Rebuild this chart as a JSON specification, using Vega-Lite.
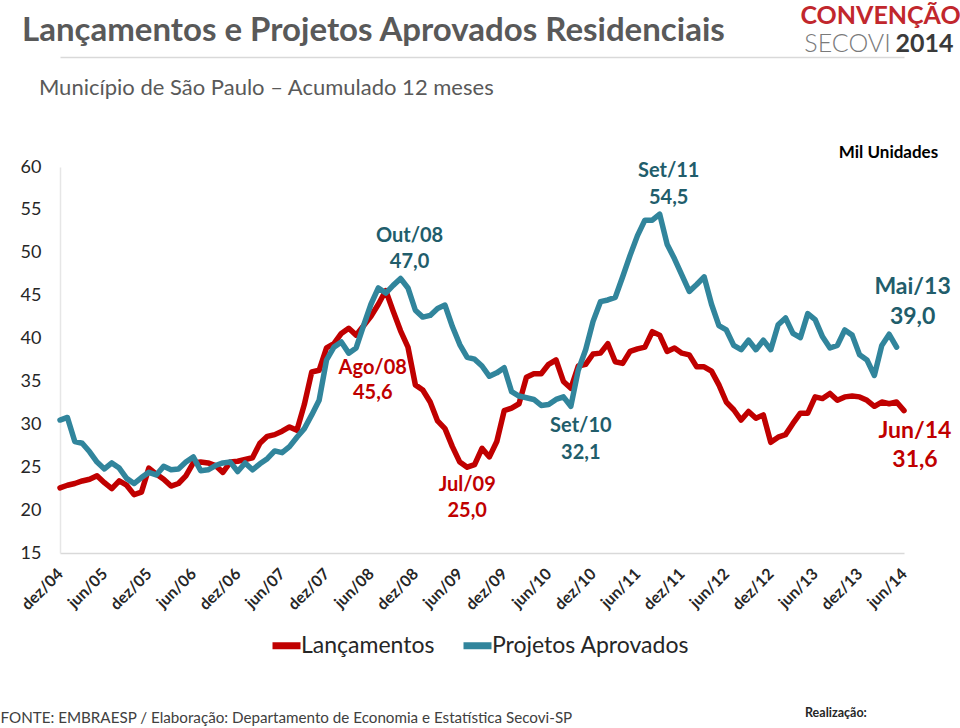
{
  "$schema": "https://vega.github.io/schema/vega-lite/v6.json",
  "autosize": "none",
  "width": 844,
  "height": 386,
  "padding": {"left": 60, "top": 167, "right": 56, "bottom": 175},
  "background": "white",
  "title": {
    "text": "Lançamentos e Projetos Aprovados Residenciais",
    "subtitle": "\u200b\u00a0\u00a0\u00a0Município de São Paulo – Acumulado 12 meses",
    "anchor": "start",
    "frame": "group",
    "dx": -38,
    "offset": -96,
    "font": "Lato",
    "fontSize": 33,
    "fontWeight": "bold",
    "color": "#595959",
    "subtitleFont": "Lato",
    "subtitleFontSize": 22,
    "subtitleColor": "#595959",
    "subtitlePadding": 30
  },
  "config": {
    "view": {"stroke": null},
    "font": "Lato",
    "text": {"font": "Lato"}
  },
  "resolve": {"axis": {"x": "independent", "y": "independent"}},
  "datasets": {
    "serie": [
      {"mes": "dez/04", "Lançamentos": 22.6, "Projetos Aprovados": 30.5},
      {"mes": "jan/05", "Lançamentos": 22.9, "Projetos Aprovados": 30.8},
      {"mes": "fev/05", "Lançamentos": 23.1, "Projetos Aprovados": 28.0},
      {"mes": "mar/05", "Lançamentos": 23.4, "Projetos Aprovados": 27.8},
      {"mes": "abr/05", "Lançamentos": 23.6, "Projetos Aprovados": 26.8},
      {"mes": "mai/05", "Lançamentos": 24.0, "Projetos Aprovados": 25.6},
      {"mes": "jun/05", "Lançamentos": 23.2, "Projetos Aprovados": 24.8},
      {"mes": "jul/05", "Lançamentos": 22.5, "Projetos Aprovados": 25.5},
      {"mes": "ago/05", "Lançamentos": 23.4, "Projetos Aprovados": 24.9},
      {"mes": "set/05", "Lançamentos": 22.9, "Projetos Aprovados": 23.7},
      {"mes": "out/05", "Lançamentos": 21.8, "Projetos Aprovados": 23.1},
      {"mes": "nov/05", "Lançamentos": 22.1, "Projetos Aprovados": 23.8},
      {"mes": "dez/05", "Lançamentos": 24.9, "Projetos Aprovados": 24.4},
      {"mes": "jan/06", "Lançamentos": 24.2, "Projetos Aprovados": 24.1},
      {"mes": "fev/06", "Lançamentos": 23.6, "Projetos Aprovados": 25.1},
      {"mes": "mar/06", "Lançamentos": 22.8, "Projetos Aprovados": 24.7},
      {"mes": "abr/06", "Lançamentos": 23.1, "Projetos Aprovados": 24.8},
      {"mes": "mai/06", "Lançamentos": 24.0, "Projetos Aprovados": 25.6},
      {"mes": "jun/06", "Lançamentos": 25.5, "Projetos Aprovados": 26.2},
      {"mes": "jul/06", "Lançamentos": 25.6, "Projetos Aprovados": 24.6},
      {"mes": "ago/06", "Lançamentos": 25.5, "Projetos Aprovados": 24.7},
      {"mes": "set/06", "Lançamentos": 25.2, "Projetos Aprovados": 25.2},
      {"mes": "out/06", "Lançamentos": 24.4, "Projetos Aprovados": 25.5},
      {"mes": "nov/06", "Lançamentos": 25.6, "Projetos Aprovados": 25.6},
      {"mes": "dez/06", "Lançamentos": 25.7, "Projetos Aprovados": 24.5},
      {"mes": "jan/07", "Lançamentos": 25.9, "Projetos Aprovados": 25.5},
      {"mes": "fev/07", "Lançamentos": 26.1, "Projetos Aprovados": 24.7},
      {"mes": "mar/07", "Lançamentos": 27.8, "Projetos Aprovados": 25.4},
      {"mes": "abr/07", "Lançamentos": 28.6, "Projetos Aprovados": 26.0},
      {"mes": "mai/07", "Lançamentos": 28.8, "Projetos Aprovados": 26.9},
      {"mes": "jun/07", "Lançamentos": 29.2, "Projetos Aprovados": 26.7},
      {"mes": "jul/07", "Lançamentos": 29.7, "Projetos Aprovados": 27.4},
      {"mes": "ago/07", "Lançamentos": 29.3, "Projetos Aprovados": 28.5},
      {"mes": "set/07", "Lançamentos": 32.3, "Projetos Aprovados": 29.5},
      {"mes": "out/07", "Lançamentos": 36.1, "Projetos Aprovados": 31.1},
      {"mes": "nov/07", "Lançamentos": 36.3, "Projetos Aprovados": 32.8},
      {"mes": "dez/07", "Lançamentos": 38.9, "Projetos Aprovados": 37.5},
      {"mes": "jan/08", "Lançamentos": 39.4, "Projetos Aprovados": 39.0},
      {"mes": "fev/08", "Lançamentos": 40.6, "Projetos Aprovados": 39.6},
      {"mes": "mar/08", "Lançamentos": 41.2, "Projetos Aprovados": 38.3},
      {"mes": "abr/08", "Lançamentos": 40.4, "Projetos Aprovados": 38.9},
      {"mes": "mai/08", "Lançamentos": 41.5, "Projetos Aprovados": 41.5},
      {"mes": "jun/08", "Lançamentos": 42.6, "Projetos Aprovados": 44.0},
      {"mes": "jul/08", "Lançamentos": 44.0, "Projetos Aprovados": 45.9},
      {"mes": "ago/08", "Lançamentos": 45.6, "Projetos Aprovados": 45.3},
      {"mes": "set/08", "Lançamentos": 43.2, "Projetos Aprovados": 46.2},
      {"mes": "out/08", "Lançamentos": 40.9, "Projetos Aprovados": 47.0},
      {"mes": "nov/08", "Lançamentos": 39.0, "Projetos Aprovados": 45.9},
      {"mes": "dez/08", "Lançamentos": 34.6, "Projetos Aprovados": 43.3},
      {"mes": "jan/09", "Lançamentos": 34.0, "Projetos Aprovados": 42.5},
      {"mes": "fev/09", "Lançamentos": 32.6, "Projetos Aprovados": 42.7},
      {"mes": "mar/09", "Lançamentos": 30.4, "Projetos Aprovados": 43.5},
      {"mes": "abr/09", "Lançamentos": 29.5, "Projetos Aprovados": 43.9},
      {"mes": "mai/09", "Lançamentos": 27.4, "Projetos Aprovados": 41.4},
      {"mes": "jun/09", "Lançamentos": 25.6, "Projetos Aprovados": 39.3},
      {"mes": "jul/09", "Lançamentos": 25.0, "Projetos Aprovados": 37.8},
      {"mes": "ago/09", "Lançamentos": 25.3, "Projetos Aprovados": 37.6},
      {"mes": "set/09", "Lançamentos": 27.2, "Projetos Aprovados": 36.8},
      {"mes": "out/09", "Lançamentos": 26.2, "Projetos Aprovados": 35.6},
      {"mes": "nov/09", "Lançamentos": 28.0, "Projetos Aprovados": 36.0},
      {"mes": "dez/09", "Lançamentos": 31.6, "Projetos Aprovados": 36.6},
      {"mes": "jan/10", "Lançamentos": 31.9, "Projetos Aprovados": 33.8},
      {"mes": "fev/10", "Lançamentos": 32.4, "Projetos Aprovados": 33.3},
      {"mes": "mar/10", "Lançamentos": 35.5, "Projetos Aprovados": 33.1},
      {"mes": "abr/10", "Lançamentos": 35.9, "Projetos Aprovados": 32.9},
      {"mes": "mai/10", "Lançamentos": 35.9, "Projetos Aprovados": 32.2},
      {"mes": "jun/10", "Lançamentos": 37.0, "Projetos Aprovados": 32.3},
      {"mes": "jul/10", "Lançamentos": 37.5, "Projetos Aprovados": 32.9},
      {"mes": "ago/10", "Lançamentos": 35.0, "Projetos Aprovados": 33.2},
      {"mes": "set/10", "Lançamentos": 34.2, "Projetos Aprovados": 32.1},
      {"mes": "out/10", "Lançamentos": 36.8, "Projetos Aprovados": 36.3},
      {"mes": "nov/10", "Lançamentos": 37.0, "Projetos Aprovados": 38.7},
      {"mes": "dez/10", "Lançamentos": 38.2, "Projetos Aprovados": 42.0},
      {"mes": "jan/11", "Lançamentos": 38.3, "Projetos Aprovados": 44.3},
      {"mes": "fev/11", "Lançamentos": 39.4, "Projetos Aprovados": 44.5},
      {"mes": "mar/11", "Lançamentos": 37.3, "Projetos Aprovados": 44.8},
      {"mes": "abr/11", "Lançamentos": 37.1, "Projetos Aprovados": 47.2},
      {"mes": "mai/11", "Lançamentos": 38.5, "Projetos Aprovados": 49.7},
      {"mes": "jun/11", "Lançamentos": 38.8, "Projetos Aprovados": 52.0},
      {"mes": "jul/11", "Lançamentos": 39.0, "Projetos Aprovados": 53.8},
      {"mes": "ago/11", "Lançamentos": 40.8, "Projetos Aprovados": 53.8},
      {"mes": "set/11", "Lançamentos": 40.4, "Projetos Aprovados": 54.5},
      {"mes": "out/11", "Lançamentos": 38.5, "Projetos Aprovados": 51.0},
      {"mes": "nov/11", "Lançamentos": 38.9, "Projetos Aprovados": 49.3},
      {"mes": "dez/11", "Lançamentos": 38.3, "Projetos Aprovados": 47.4},
      {"mes": "jan/12", "Lançamentos": 38.1, "Projetos Aprovados": 45.5},
      {"mes": "fev/12", "Lançamentos": 36.7, "Projetos Aprovados": 46.3},
      {"mes": "mar/12", "Lançamentos": 36.7, "Projetos Aprovados": 47.2},
      {"mes": "abr/12", "Lançamentos": 36.2, "Projetos Aprovados": 44.0},
      {"mes": "mai/12", "Lançamentos": 34.6, "Projetos Aprovados": 41.5},
      {"mes": "jun/12", "Lançamentos": 32.6, "Projetos Aprovados": 41.0},
      {"mes": "jul/12", "Lançamentos": 31.7, "Projetos Aprovados": 39.2},
      {"mes": "ago/12", "Lançamentos": 30.5, "Projetos Aprovados": 38.7},
      {"mes": "set/12", "Lançamentos": 31.5, "Projetos Aprovados": 39.8},
      {"mes": "out/12", "Lançamentos": 30.7, "Projetos Aprovados": 38.7},
      {"mes": "nov/12", "Lançamentos": 31.1, "Projetos Aprovados": 39.8},
      {"mes": "dez/12", "Lançamentos": 27.9, "Projetos Aprovados": 38.7},
      {"mes": "jan/13", "Lançamentos": 28.5, "Projetos Aprovados": 41.6},
      {"mes": "fev/13", "Lançamentos": 28.8, "Projetos Aprovados": 42.4},
      {"mes": "mar/13", "Lançamentos": 30.1, "Projetos Aprovados": 40.6},
      {"mes": "abr/13", "Lançamentos": 31.3, "Projetos Aprovados": 40.1},
      {"mes": "mai/13", "Lançamentos": 31.3, "Projetos Aprovados": 42.9},
      {"mes": "jun/13", "Lançamentos": 33.2, "Projetos Aprovados": 42.2},
      {"mes": "jul/13", "Lançamentos": 33.0, "Projetos Aprovados": 40.2},
      {"mes": "ago/13", "Lançamentos": 33.6, "Projetos Aprovados": 38.9},
      {"mes": "set/13", "Lançamentos": 32.8, "Projetos Aprovados": 39.2},
      {"mes": "out/13", "Lançamentos": 33.2, "Projetos Aprovados": 41.0},
      {"mes": "nov/13", "Lançamentos": 33.3, "Projetos Aprovados": 40.4},
      {"mes": "dez/13", "Lançamentos": 33.2, "Projetos Aprovados": 38.1},
      {"mes": "jan/14", "Lançamentos": 32.8, "Projetos Aprovados": 37.5},
      {"mes": "fev/14", "Lançamentos": 32.1, "Projetos Aprovados": 35.7},
      {"mes": "mar/14", "Lançamentos": 32.6, "Projetos Aprovados": 39.2},
      {"mes": "abr/14", "Lançamentos": 32.4, "Projetos Aprovados": 40.5},
      {"mes": "mai/14", "Lançamentos": 32.6, "Projetos Aprovados": 39.0},
      {"mes": "jun/14", "Lançamentos": 31.6, "Projetos Aprovados": null}
    ]
  },
  "layer": [
    {
      "data": {"name": "serie"},
      "transform": [
        {"fold": ["Lançamentos", "Projetos Aprovados"], "as": ["serie", "valor"]},
        {"filter": "isValid(datum.valor)"}
      ],
      "mark": {"type": "line", "strokeWidth": 5.5, "strokeJoin": "round", "strokeCap": "round"},
      "encoding": {
        "x": {
          "field": "mes",
          "type": "ordinal",
          "scale": {
            "type": "point",
            "padding": 0,
            "domain": ["dez/04","jan/05","fev/05","mar/05","abr/05","mai/05","jun/05","jul/05","ago/05","set/05","out/05","nov/05","dez/05","jan/06","fev/06","mar/06","abr/06","mai/06","jun/06","jul/06","ago/06","set/06","out/06","nov/06","dez/06","jan/07","fev/07","mar/07","abr/07","mai/07","jun/07","jul/07","ago/07","set/07","out/07","nov/07","dez/07","jan/08","fev/08","mar/08","abr/08","mai/08","jun/08","jul/08","ago/08","set/08","out/08","nov/08","dez/08","jan/09","fev/09","mar/09","abr/09","mai/09","jun/09","jul/09","ago/09","set/09","out/09","nov/09","dez/09","jan/10","fev/10","mar/10","abr/10","mai/10","jun/10","jul/10","ago/10","set/10","out/10","nov/10","dez/10","jan/11","fev/11","mar/11","abr/11","mai/11","jun/11","jul/11","ago/11","set/11","out/11","nov/11","dez/11","jan/12","fev/12","mar/12","abr/12","mai/12","jun/12","jul/12","ago/12","set/12","out/12","nov/12","dez/12","jan/13","fev/13","mar/13","abr/13","mai/13","jun/13","jul/13","ago/13","set/13","out/13","nov/13","dez/13","jan/14","fev/14","mar/14","abr/14","mai/14","jun/14"]
          },
          "axis": {
            "orient": "bottom",
            "values": ["dez/04","jun/05","dez/05","jun/06","dez/06","jun/07","dez/07","jun/08","dez/08","jun/09","dez/09","jun/10","dez/10","jun/11","dez/11","jun/12","dez/12","jun/13","dez/13","jun/14"],
            "labelAngle": -45,
            "labelAlign": "right",
            "labelBaseline": "middle",
            "labelFont": "Lato",
            "labelFontSize": 16,
            "labelFontWeight": "bold",
            "labelColor": "#262626",
            "labelPadding": 18,
            "labelOverlap": false,
            "ticks": false,
            "grid": false,
            "domain": true,
            "domainColor": "#d9d9d9",
            "domainWidth": 1.5,
            "title": "FONTE:  EMBRAESP / Elaboração: Departamento de Economia e Estatística Secovi-SP",
            "titleFont": "Lato",
            "titleFontSize": 15.2,
            "titleFontWeight": "normal",
            "titleColor": "#404040",
            "titleAnchor": "start",
            "titleAlign": "left",
            "titleBaseline": "middle",
            "titleX": -60,
            "titleY": 164
          }
        },
        "y": {
          "field": "valor",
          "type": "quantitative",
          "scale": {"domain": [15, 60], "nice": false, "zero": false},
          "axis": {
            "orient": "left",
            "values": [15, 20, 25, 30, 35, 40, 45, 50, 55, 60],
            "labelFont": "Lato",
            "labelFontSize": 18,
            "labelColor": "#262626",
            "labelPadding": 19,
            "ticks": false,
            "grid": false,
            "domain": true,
            "domainColor": "#e6e6e6",
            "domainWidth": 1.5,
            "title": "Mil Unidades",
            "titleFont": "Lato",
            "titleFontSize": 17,
            "titleFontWeight": "bold",
            "titleColor": "#000000",
            "titleAngle": 0,
            "titleAlign": "center",
            "titleBaseline": "middle",
            "titleX": 828,
            "titleY": -15
          }
        },
        "color": {
          "field": "serie",
          "type": "nominal",
          "scale": {"domain": ["Lançamentos", "Projetos Aprovados"], "range": ["#c00000", "#31859c"]},
          "legend": {
            "title": "Realização:",
            "titleOrient": "right",
            "titleAnchor": "start",
            "titleBaseline": "line-top",
            "titleAlign": "left",
            "titleFont": "Lato",
            "titleFontSize": 12.5,
            "titleFontWeight": "bold",
            "titleColor": "#262626",
            "titleLineHeight": 170,
            "titlePadding": 116,
            "orient": "none",
            "legendX": 209,
            "legendY": 461,
            "direction": "horizontal",
            "symbolType": "stroke",
            "symbolSize": 784,
            "symbolStrokeWidth": 7,
            "labelFont": "Lato",
            "labelFontSize": 23,
            "labelColor": "#262626",
            "labelOffset": -3,
            "labelLimit": 400,
            "columnPadding": 14
          }
        }
      }
    },
    {
      "data": {"values": [
        {"mes": "out/08", "valor": 47.0, "rotulo": "Out/08\n47,0"},
        {"mes": "set/11", "valor": 54.5, "rotulo": "Set/11\n54,5"}
      ]},
      "mark": {"type": "text", "lineBreak": "\n", "lineHeight": 26.5, "align": "center", "baseline": "middle", "dx": 9, "dy": -43, "fontSize": 20, "fontWeight": "bold", "color": "#215d6b"},
      "encoding": {
        "x": {"field": "mes", "type": "ordinal", "axis": null},
        "y": {"field": "valor", "type": "quantitative", "axis": null},
        "text": {"field": "rotulo"}
      }
    },
    {
      "data": {"values": [
        {"mes": "set/10", "valor": 32.1, "rotulo": "Set/10\n32,1"}
      ]},
      "mark": {"type": "text", "lineBreak": "\n", "lineHeight": 27, "align": "center", "baseline": "middle", "dx": 10, "dy": 20, "fontSize": 20, "fontWeight": "bold", "color": "#215d6b"},
      "encoding": {
        "x": {"field": "mes", "type": "ordinal", "axis": null},
        "y": {"field": "valor", "type": "quantitative", "axis": null},
        "text": {"field": "rotulo"}
      }
    },
    {
      "data": {"values": [
        {"mes": "mai/14", "valor": 39.0, "rotulo": "Mai/13\n39,0"}
      ]},
      "mark": {"type": "text", "lineBreak": "\n", "lineHeight": 30, "align": "center", "baseline": "middle", "dx": 16, "dy": -60, "fontSize": 23, "fontWeight": "bold", "color": "#215d6b"},
      "encoding": {
        "x": {"field": "mes", "type": "ordinal", "axis": null},
        "y": {"field": "valor", "type": "quantitative", "axis": null},
        "text": {"field": "rotulo"}
      }
    },
    {
      "data": {"values": [
        {"mes": "ago/08", "valor": 45.6, "rotulo": "Ago/08\n45,6"}
      ]},
      "mark": {"type": "text", "lineBreak": "\n", "lineHeight": 25, "align": "center", "baseline": "middle", "dx": -13, "dy": 77, "fontSize": 20, "fontWeight": "bold", "color": "#c00000"},
      "encoding": {
        "x": {"field": "mes", "type": "ordinal", "axis": null},
        "y": {"field": "valor", "type": "quantitative", "axis": null},
        "text": {"field": "rotulo"}
      }
    },
    {
      "data": {"values": [
        {"mes": "jul/09", "valor": 25.0, "rotulo": "Jul/09\n25,0"}
      ]},
      "mark": {"type": "text", "lineBreak": "\n", "lineHeight": 26, "align": "center", "baseline": "middle", "dx": 0, "dy": 18, "fontSize": 20, "fontWeight": "bold", "color": "#c00000"},
      "encoding": {
        "x": {"field": "mes", "type": "ordinal", "axis": null},
        "y": {"field": "valor", "type": "quantitative", "axis": null},
        "text": {"field": "rotulo"}
      }
    },
    {
      "data": {"values": [
        {"mes": "jun/14", "valor": 31.6, "rotulo": "Jun/14\n31,6"}
      ]},
      "mark": {"type": "text", "lineBreak": "\n", "lineHeight": 29, "align": "center", "baseline": "middle", "dx": 11, "dy": 20, "fontSize": 23, "fontWeight": "bold", "color": "#c00000"},
      "encoding": {
        "x": {
          "field": "mes",
          "type": "ordinal",
          "axis": {
            "orient": "top",
            "offset": 110,
            "values": ["jun/14"],
            "labelExpr": "'2014'",
            "labelAngle": 0,
            "labelAlign": "center",
            "labelBaseline": "middle",
            "labelOffset": 20,
            "labelPadding": 14,
            "labelFont": "Lato",
            "labelFontSize": 25,
            "labelFontWeight": "bold",
            "labelColor": "#3a3a3a",
            "ticks": false,
            "grid": false,
            "domain": true,
            "domainColor": "#d9d9d9",
            "domainWidth": 1.5,
            "title": "SECOVI",
            "titleFont": "Lato",
            "titleFontSize": 25,
            "titleFontWeight": 300,
            "titleColor": "#7a7a7a",
            "titleAngle": 0,
            "titleAlign": "center",
            "titleBaseline": "middle",
            "titleX": 787,
            "titleY": -14
          }
        },
        "y": {
          "field": "valor",
          "type": "quantitative",
          "axis": {
            "orient": "right",
            "labels": false,
            "ticks": false,
            "grid": false,
            "domain": false,
            "title": "CONVENÇÃO",
            "titleFont": "Lato",
            "titleFontSize": 25,
            "titleFontWeight": "bold",
            "titleColor": "#c1272d",
            "titleAngle": 0,
            "titleAlign": "center",
            "titleBaseline": "middle",
            "titleX": -24,
            "titleY": -152
          }
        },
        "text": {"field": "rotulo"}
      }
    }
  ]
}
